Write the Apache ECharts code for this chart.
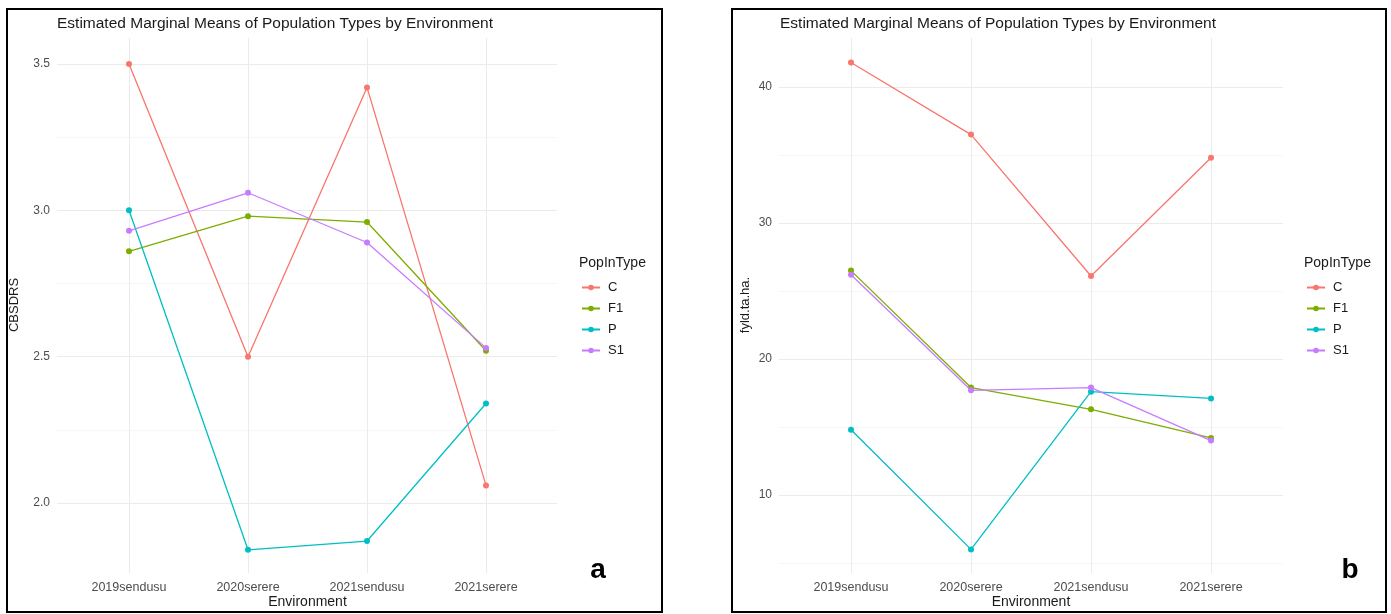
<!DOCTYPE html>
<html>
<head>
<meta charset="utf-8">
<title>Estimated Marginal Means</title>
<script src="https://cdn.jsdelivr.net/npm/echarts@6/dist/echarts.min.js"></script>
<style>
  html, body { margin: 0; padding: 0; background: #fff; }
  #chart { width: 1391px; height: 614px; }
</style>
</head>
<body>
<div id="chart"></div>
<script>
const environments = ['2019sendusu', '2020serere', '2021sendusu', '2021serere']
const popTypes = ['C', 'F1', 'P', 'S1']
const popColors = ['#F8766D', '#7CAE00', '#00BFC4', '#C77CFF']

// panel a: CBSDRS
const cbsdrsC = [3.50, 2.50, 3.42, 2.06]
const cbsdrsF1 = [2.86, 2.98, 2.96, 2.52]
const cbsdrsP = [3.00, 1.84, 1.87, 2.34]
const cbsdrsS1 = [2.93, 3.06, 2.89, 2.53]

// panel b: fyld.ta.ha.
const yieldC = [41.8, 36.5, 26.1, 34.8]
const yieldF1 = [26.5, 17.9, 16.3, 14.2]
const yieldP = [14.8, 6.0, 17.6, 17.1]
const yieldS1 = [26.2, 17.7, 17.9, 14.0]

const chartTitle = 'Estimated Marginal Means of Population Types by Environment'
const font = '"Liberation Sans", Arial, sans-serif'
const gridColor = '#ebebeb'

const cbsdrsSeries = [cbsdrsC, cbsdrsF1, cbsdrsP, cbsdrsS1]
const yieldSeries = [yieldC, yieldF1, yieldP, yieldS1]

const chart = echarts.init(document.getElementById('chart'))

function makeSeries(values, axisIndex) {
  return values.map((vals, i) => ({
    name: popTypes[i],
    type: 'line',
    xAxisIndex: axisIndex,
    yAxisIndex: axisIndex,
    data: vals,
    symbol: 'circle',
    symbolSize: 6,
    showSymbol: true,
    lineStyle: { color: popColors[i], width: 1.3 },
    itemStyle: { color: popColors[i] },
    emphasis: { disabled: true },
    z: 3 + i
  }))
}

// outer grids carry the horizontal gridlines and y labels,
// inner grids hold the categories and the data
function outerY(gridIndex, min, max, interval, digits) {
  return {
    gridIndex, type: 'value', min, max, interval,
    axisLine: { show: false }, axisTick: { show: false },
    axisLabel: {
      color: '#4d4d4d', fontSize: 12, fontFamily: font, margin: 7,
      formatter: v => v.toFixed(digits)
    },
    splitLine: { show: true, lineStyle: { color: gridColor, width: 1 } },
    minorTick: { show: false, splitNumber: 2 },
    minorSplitLine: { show: true, lineStyle: { color: '#f3f3f3', width: 0.7 } }
  }
}

function innerX(gridIndex) {
  return {
    gridIndex, type: 'category', data: environments, boundaryGap: false,
    axisLine: { show: false }, axisTick: { show: false },
    axisLabel: { color: '#4d4d4d', fontSize: 12.5, fontFamily: font, margin: 8 },
    splitLine: { show: true, lineStyle: { color: gridColor, width: 1 } },
    name: 'Environment', nameLocation: 'middle', nameGap: 22, nameMoveOverlap: false,
    nameTextStyle: { color: '#1a1a1a', fontSize: 14, fontFamily: font }
  }
}

function legendTexts(x) {
  return { left: x, top: 280, orient: 'vertical', data: popTypes, padding: 0,
    itemWidth: 18, itemHeight: 7, itemGap: 6,
    textStyle: { color: '#1a1a1a', fontSize: 13, fontFamily: font, lineHeight: 15,
      padding: [0, 0, 0, 3] },
    selectedMode: false }
}

function gridBox(left, top, width, height) {
  return { left, top, width, height, containLabel: false, outerBoundsMode: 'none' }
}

const option = {
  animation: false,
  backgroundColor: '#fff',
  title: [
    { text: chartTitle, left: 52, top: 11,
      textStyle: { color: '#1a1a1a', fontSize: 15.5, fontWeight: 'normal', fontFamily: font } },
    { text: chartTitle, left: 775, top: 11,
      textStyle: { color: '#1a1a1a', fontSize: 15.5, fontWeight: 'normal', fontFamily: font } }
  ],
  legend: [legendTexts(581), legendTexts(1306)],
  grid: [
    gridBox(57, 64, 500, 439),
    gridBox(129, 38, 357, 535),
    gridBox(779, 87, 504, 544),
    gridBox(851, 38, 360, 535)
  ],
  xAxis: [
    { gridIndex: 0, type: 'value', min: 0, max: 1, show: false },
    innerX(1),
    { gridIndex: 2, type: 'value', min: 0, max: 1, show: false },
    innerX(3)
  ],
  yAxis: [
    outerY(0, 2.0, 3.5, 0.5, 1),
    { gridIndex: 1, type: 'value', min: 1.7608, max: 3.5888, show: false },
    outerY(2, 0, 40, 10, 0),
    { gridIndex: 3, type: 'value', min: 4.265, max: 43.603, show: false }
  ],
  series: [
    ...makeSeries(cbsdrsSeries, 1),
    ...makeSeries(yieldSeries, 3)
  ],
  graphic: [
    { type: 'rect', shape: { x: 7, y: 9, width: 655, height: 603 },
      style: { fill: 'none', stroke: '#000', lineWidth: 2 }, silent: true },
    { type: 'rect', shape: { x: 732, y: 9, width: 654, height: 603 },
      style: { fill: 'none', stroke: '#000', lineWidth: 2 }, silent: true },
    { type: 'text', x: 14, y: 305, rotation: Math.PI / 2,
      style: { text: 'CBSDRS', fill: '#1a1a1a', font: '13px ' + font, align: 'center', verticalAlign: 'middle' } },
    { type: 'text', x: 745, y: 305, rotation: Math.PI / 2,
      style: { text: 'fyld.ta.ha.', fill: '#1a1a1a', font: '13px ' + font, align: 'center', verticalAlign: 'middle' } },
    { type: 'text', x: 579, y: 263,
      style: { text: 'PopInType', fill: '#1a1a1a', font: '14px ' + font, verticalAlign: 'middle' } },
    { type: 'text', x: 1304, y: 263,
      style: { text: 'PopInType', fill: '#1a1a1a', font: '14px ' + font, verticalAlign: 'middle' } },
    { type: 'text', x: 598, y: 570,
      style: { text: 'a', fill: '#000', font: 'bold 28px ' + font, align: 'center', verticalAlign: 'middle' } },
    { type: 'text', x: 1350, y: 570,
      style: { text: 'b', fill: '#000', font: 'bold 28px ' + font, align: 'center', verticalAlign: 'middle' } }
  ]
}

chart.setOption(option)
</script>
</body>
</html>
